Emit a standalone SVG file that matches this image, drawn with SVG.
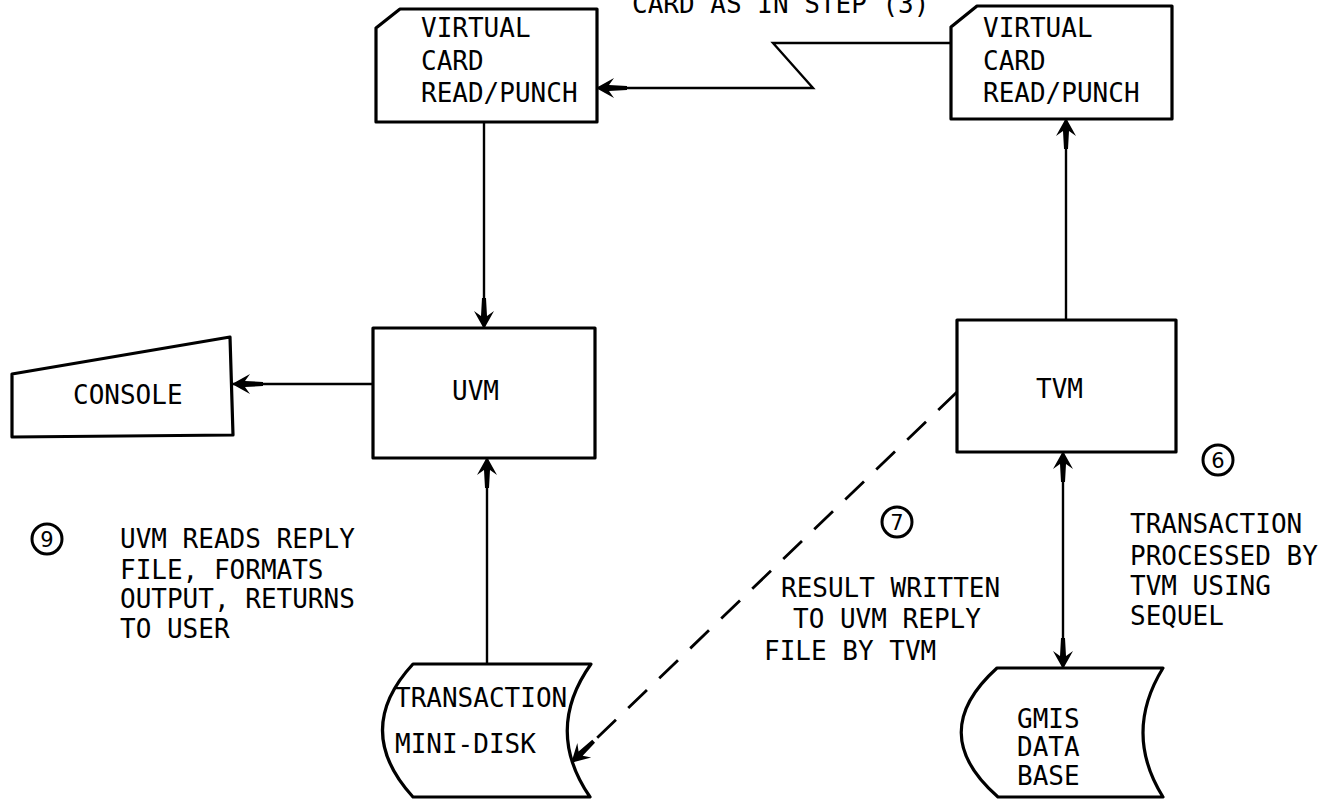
<svg xmlns="http://www.w3.org/2000/svg" width="1338" height="799" viewBox="0 0 1338 799">
<style>
.box{fill:#fff;stroke:#000;stroke-width:3.2;stroke-linejoin:round}
.t{font-family:"DejaVu Sans Mono","Liberation Mono",monospace;font-size:26px;fill:#000}
.c{fill:none;stroke:#000;stroke-width:2.4}
.d{fill:none;stroke:#000;stroke-width:2.8;stroke-dasharray:26 17}
.num{fill:none;stroke:#000;stroke-width:3}
.n{font-family:"DejaVu Sans","Liberation Sans",sans-serif;font-size:21px;fill:#000;text-anchor:middle}
</style>
<defs>
<marker id="ah" viewBox="-34 -12 36 24" refX="0" refY="0" markerWidth="36" markerHeight="24" markerUnits="userSpaceOnUse" orient="auto-start-reverse">
<path d="M1,0 L-17,-10 L-12,-3 L-30,-2 L-30,2 L-12,3 L-17,10 Z" fill="#000" stroke="none"/>
</marker>
</defs>
<rect width="1338" height="799" fill="#fff"/>

<text class="t" x="632" y="13">CARD AS IN STEP (3)</text>

<g id="connectors">
<line class="c" x1="484" y1="122" x2="484" y2="328" marker-end="url(#ah)"/>
<line class="c" x1="373" y1="384" x2="233" y2="384" marker-end="url(#ah)"/>
<line class="c" x1="487" y1="664" x2="487" y2="458" marker-end="url(#ah)"/>
<line class="c" x1="1066" y1="320" x2="1066" y2="119" marker-end="url(#ah)"/>
<line class="c" x1="1063" y1="452" x2="1063" y2="668" marker-start="url(#ah)" marker-end="url(#ah)"/>
<polyline class="c" points="951,43 773,43 813,88 597,88" marker-end="url(#ah)"/>
<line class="d" x1="957" y1="392" x2="572" y2="762" marker-end="url(#ah)"/>
</g>

<g id="card-left">
<path class="box" d="M376,28 L400,9 L597,9 L597,122 L376,122 Z"/>
<text class="t" x="421" y="37">VIRTUAL</text>
<text class="t" x="421" y="70">CARD</text>
<text class="t" x="421" y="102">READ/PUNCH</text>
</g>

<g id="card-right">
<path class="box" d="M951,27 L977,6 L1172,6 L1172,119 L951,119 Z"/>
<text class="t" x="983" y="37">VIRTUAL</text>
<text class="t" x="983" y="70">CARD</text>
<text class="t" x="983" y="102">READ/PUNCH</text>
</g>

<g id="uvm">
<rect class="box" x="373" y="328" width="222" height="130"/>
<text class="t" x="452" y="400">UVM</text>
</g>

<g id="tvm">
<rect class="box" x="957" y="320" width="219" height="132"/>
<text class="t" x="1036" y="398">TVM</text>
</g>

<g id="console">
<path class="box" d="M12,374 L230,337 L233,435 L12,437 Z"/>
<text class="t" x="73" y="404">CONSOLE</text>
</g>

<g id="minidisk">
<path class="box" d="M413,664 L591,664 Q544,730 590,797 L413,797 Q352,730 413,664 Z"/>
<text class="t" x="395" y="707">TRANSACTION</text>
<text class="t" x="395" y="753">MINI-DISK</text>
</g>

<g id="gmis">
<path class="box" d="M997,668 L1163,668 Q1123,733 1163,797 L998,797 Q925,733 997,668 Z"/>
<text class="t" x="1017" y="728">GMIS</text>
<text class="t" x="1017" y="756">DATA</text>
<text class="t" x="1017" y="785">BASE</text>
</g>

<g id="note9">
<circle class="num" cx="47" cy="539" r="15"/>
<text class="n" x="47" y="546.5">9</text>
<text class="t" x="120" y="548">UVM READS REPLY</text>
<text class="t" x="120" y="579">FILE, FORMATS</text>
<text class="t" x="120" y="608">OUTPUT, RETURNS</text>
<text class="t" x="120" y="638">TO USER</text>
</g>

<g id="note7">
<circle class="num" cx="897" cy="522" r="15" stroke-width="2.4"/>
<text class="n" x="897" y="529.5">7</text>
<text class="t" x="781" y="597">RESULT WRITTEN</text>
<text class="t" x="793" y="628">TO UVM REPLY</text>
<text class="t" x="764" y="660">FILE BY TVM</text>
</g>

<g id="note6">
<circle class="num" cx="1218" cy="460" r="15"/>
<text class="n" x="1218" y="467.5">6</text>
<text class="t" x="1130" y="533">TRANSACTION</text>
<text class="t" x="1130" y="565">PROCESSED BY</text>
<text class="t" x="1130" y="595">TVM USING</text>
<text class="t" x="1130" y="625">SEQUEL</text>
</g>
</svg>
